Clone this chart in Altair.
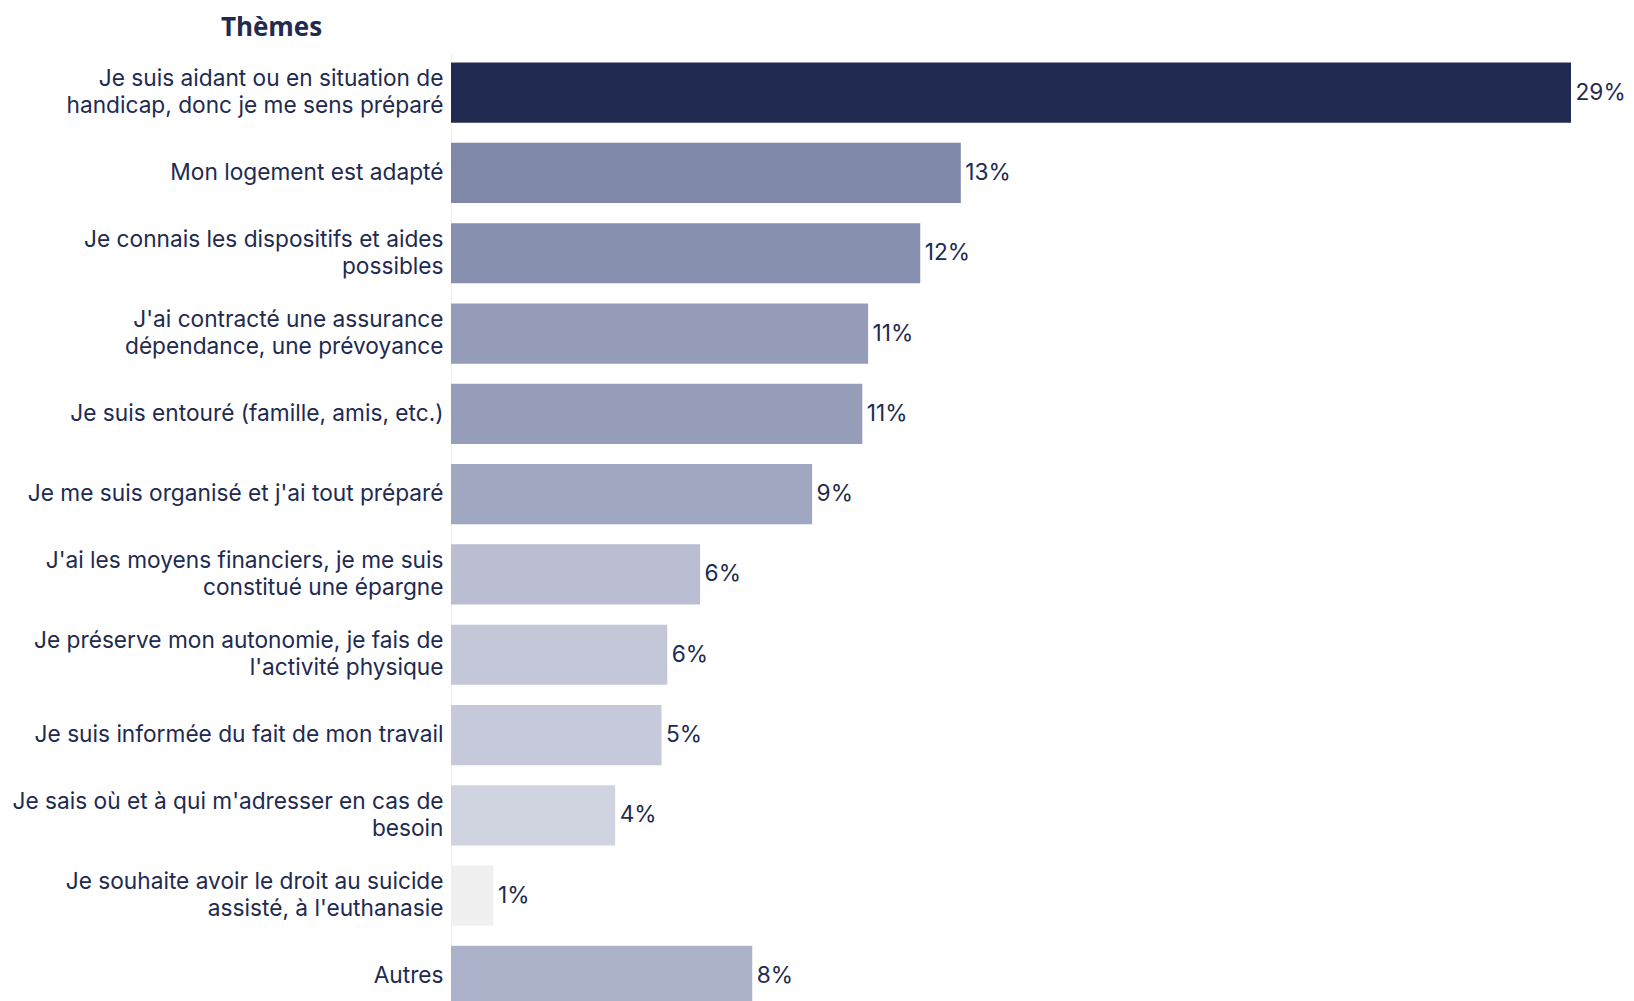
import altair as alt
import pandas as pd

categories = [
    "Je suis aidant ou en situation de|handicap, donc je me sens préparé",
    "Mon logement est adapté",
    "Je connais les dispositifs et aides|possibles",
    "J'ai contracté une assurance|dépendance, une prévoyance",
    "Je suis entouré (famille, amis, etc.)",
    "Je me suis organisé et j'ai tout préparé",
    "J'ai les moyens financiers, je me suis|constitué une épargne",
    "Je préserve mon autonomie, je fais de|l'activité physique",
    "Je suis informée du fait de mon travail",
    "Je sais où et à qui m'adresser en cas de|besoin",
    "Je souhaite avoir le droit au suicide|assisté, à l'euthanasie",
    "Autres",
]
values = [29.0, 13.2, 12.15, 10.8, 10.65, 9.35, 6.45, 5.6, 5.45, 4.25, 1.1, 7.8]
colors = ["#212a50", "#7f88a8", "#8790ae", "#959cb8", "#969db9", "#a0a7c1",
          "#bbbed2", "#c4c7d8", "#c6c9da", "#d0d3e0", "#f0f0f0", "#adb2cb"]

df = pd.DataFrame({"theme": categories, "value": values})

NAVY = "#212a50"
FONT = "Inter"
FS = 22.7

y_enc = alt.Y(
    "theme:N",
    sort=categories,
    scale=alt.Scale(paddingInner=0.25, paddingOuter=0.125),
    axis=alt.Axis(
        title="Thèmes",
        titleAngle=0,
        titleX=-180,
        titleY=-16.5,
        titleAlign="center",
        titleBaseline="alphabetic",
        titleFont="Open Sans",
        titleFontSize=26,
        titleFontWeight="bold",
        titleColor=NAVY,
        labelExpr="split(datum.label, '|')",
        labelFont=FONT,
        labelFontSize=FS,
        labelLineHeight=27,
        labelColor=NAVY,
        labelPadding=8,
        labelLimit=0,
        labelBaseline="middle",
        labelOffset=alt.ExprRef("indexof(datum.value, '|') >= 0 ? -13.5 : 0"),
        ticks=False,
        domainColor="#eeeeee",
        domainWidth=1,
        grid=False,
    ),
)

x_enc = alt.X("value:Q", scale=alt.Scale(domain=[0, 29]), axis=None)

bars = alt.Chart(df).mark_bar().encode(
    y=y_enc,
    x=x_enc,
    color=alt.Color("theme:N", scale=alt.Scale(domain=categories, range=colors), legend=None),
)

labels = alt.Chart(df).transform_calculate(
    lab="format(datum.value, '.0f') + '%'"
).mark_text(
    align="left", baseline="middle", dx=4.5, font=FONT, fontSize=FS, color=NAVY
).encode(
    y=alt.Y("theme:N", sort=categories),
    x=x_enc,
    text="lab:N",
)

chart = alt.layer(bars, labels).properties(
    width=1120,
    height=963.6,
    autosize=alt.AutoSizeParams(type="none"),
    padding={"left": 443, "top": 44.5, "right": 55, "bottom": 0},
).configure_view(stroke=None)

chart.save("out.html", embed_options={"renderer": "svg", "actions": False})
